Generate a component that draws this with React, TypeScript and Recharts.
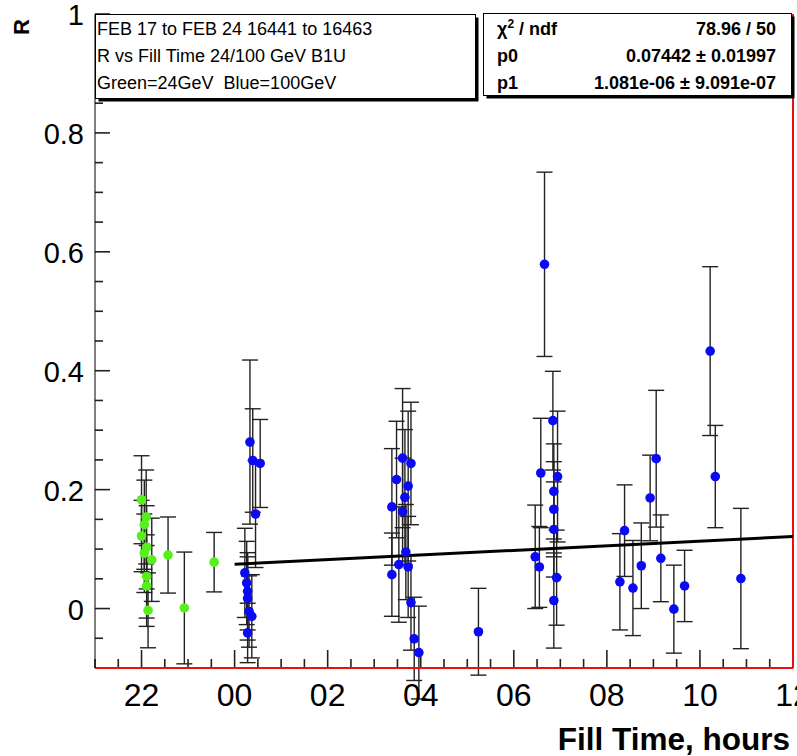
import { ErrorBar, ReferenceLine, Scatter, ScatterChart, XAxis, YAxis } from "recharts";

const FONT = "'Liberation Sans', Arial, Helvetica, sans-serif";

// fill time in hours (24 = midnight), R value, error
const greenTime = [22.0, 22.1, 22.06, 22.0, 22.11, 22.06, 22.22, 22.57, 22.11, 22.11, 22.14, 22.92, 23.56];
const greenR = [0.183, 0.154, 0.141, 0.122, 0.103, 0.093, 0.082, 0.09, 0.054, 0.038, -0.003, 0.001, 0.078];
const greenErr = [0.074, 0.079, 0.075, 0.06, 0.07, 0.066, 0.07, 0.064, 0.07, 0.068, 0.063, 0.094, 0.05];

const blueTime = [
  24.33, 24.39, 24.55, 24.45, 24.22, 24.26, 24.28, 24.28, 24.31, 24.37, 24.28,
  27.61, 27.79, 27.48, 27.73, 27.66, 27.38, 27.61, 27.68, 27.53, 27.73, 27.38, 27.79, 27.86, 27.96, 29.24,
  30.46, 30.55, 30.58, 30.66, 30.84, 30.86, 30.86, 30.86, 30.94, 30.92, 30.86,
  32.28, 32.38, 32.56, 32.74, 32.93, 33.06, 33.16, 33.44, 33.67, 34.22, 34.33, 34.88,
];
const blueR = [
  0.28, 0.249, 0.244, 0.159, 0.06, 0.043, 0.029, 0.017, -0.005, -0.013, -0.041,
  0.253, 0.244, 0.217, 0.206, 0.187, 0.171, 0.163, 0.095, 0.074, 0.07, 0.057, 0.01, -0.051, -0.074, -0.039,
  0.087, 0.07, 0.228, 0.579, 0.316, 0.197, 0.167, 0.133, 0.222, 0.052, 0.0135,
  0.045, 0.131, 0.0345, 0.072, 0.186, 0.252, 0.0845, -0.001, 0.038, 0.433, 0.222, 0.0505,
];
const blueErr = [
  0.138, 0.087, 0.074, 0.09, 0.075, 0.07, 0.065, 0.07, 0.06, 0.07, 0.05,
  0.117, 0.103, 0.098, 0.126, 0.114, 0.098, 0.09, 0.08, 0.097, 0.085, 0.07, 0.08, 0.07, 0.078, 0.073,
  0.087, 0.068, 0.092, 0.155, 0.083, 0.08, 0.08, 0.08, 0.11, 0.08, 0.08,
  0.081, 0.077, 0.08, 0.072, 0.072, 0.115, 0.073, 0.074, 0.06, 0.142, 0.086, 0.118,
];

// pol1 fit drawn from midnight to noon
const fitTime = [24, 36];
const fitR = [0.0744, 0.1211];

const X_MIN = 21;
const X_MAX = 36;
const Y_MIN = -0.1;
const Y_MAX = 1;

const xTicks = [
  21, 21.5, 22, 22.5, 23, 23.5, 24, 24.5, 25, 25.5, 26, 26.5, 27, 27.5, 28, 28.5,
  29, 29.5, 30, 30.5, 31, 31.5, 32, 32.5, 33, 33.5, 34, 34.5, 35, 35.5, 36,
];
const xMajorTicks = [22, 24, 26, 28, 30, 32, 34, 36];
const xMajorLabels = ["22", "00", "02", "04", "06", "08", "10", "12"];

const yTicks = [
  -0.1, -0.05, 0, 0.05, 0.1, 0.15, 0.2, 0.25, 0.3, 0.35, 0.4, 0.45, 0.5, 0.55,
  0.6, 0.65, 0.7, 0.75, 0.8, 0.85, 0.9, 0.95, 1,
];
const yMajorTicks = [0, 0.2, 0.4, 0.6, 0.8, 1];
const yMajorLabels = ["0", "0.2", "0.4", "0.6", "0.8", "1"];

const greenData = greenTime.map((h, i) => ({ h, r: greenR[i], err: greenErr[i] }));
const blueData = blueTime.map((h, i) => ({ h, r: blueR[i], err: blueErr[i] }));
const fitData = fitTime.map((h, i) => ({ h, r: fitR[i] }));

const TICK_COLOR = "#222222";

// ROOT style tick marks: short stubs from the frame edge pointing inward.
const xStub = (len: number) => (p: any) => {
  const x = Number(p.x1);
  const yb = Math.max(Number(p.y1), Number(p.y2));
  return <line x1={x} x2={x} y1={yb} y2={yb - len} stroke={TICK_COLOR} strokeWidth={1.6} />;
};
const yStub = (len: number) => (p: any) => {
  const y = Number(p.y1);
  const xl = Math.min(Number(p.x1), Number(p.x2));
  return <line x1={xl} x2={xl + len} y1={y} y2={y} stroke={TICK_COLOR} strokeWidth={1.6} />;
};

function XLabel(props: any) {
  const i = xMajorTicks.indexOf(props.payload.value);
  if (i < 0) return <g />;
  return (
    <text x={props.x} y={Number(props.y) + 27} textAnchor="middle" dominantBaseline="central" fontSize={32} fontFamily={FONT} fill="#000">
      {xMajorLabels[i]}
    </text>
  );
}

function YLabel(props: any) {
  const i = yMajorTicks.indexOf(props.payload.value);
  if (i < 0) return <g />;
  return (
    <text x={Number(props.x) - 11} y={Number(props.y) + 1} textAnchor="end" dominantBaseline="central" fontSize={29} fontFamily={FONT} fill="#000">
      {yMajorLabels[i]}
    </text>
  );
}

const dot = (color: string) => (p: any) => <circle cx={p.cx} cy={p.cy} r={4.8} fill={color} />;

export default function App() {
  return (
    <div style={{ position: "absolute", left: 0, top: 0, width: 797, height: 756, background: "#fff" }}>
      <ScatterChart width={797} height={756} margin={{ top: 14, right: 4, bottom: 0, left: 0 }}>
        <XAxis
          type="number"
          dataKey="h"
          domain={[X_MIN, X_MAX]}
          allowDataOverflow
          ticks={xTicks}
          interval={0}
          height={88}
          tickSize={0}
          tickMargin={0}
          tickLine={false}
          axisLine={{ stroke: "#e81010", strokeWidth: 2 }}
          tick={(p: any) => <XLabel {...p} />}
        />
        <YAxis
          type="number"
          dataKey="r"
          domain={[Y_MIN, Y_MAX]}
          allowDataOverflow
          ticks={yTicks}
          interval={0}
          width={95}
          tickSize={0}
          tickMargin={0}
          tickLine={false}
          axisLine={{ stroke: "#000", strokeWidth: 1 }}
          tick={(p: any) => <YLabel {...p} />}
        />
        {xTicks.map((t) => (
          <ReferenceLine key={`xt${t}`} x={t} ifOverflow="visible" shape={xStub(xMajorTicks.includes(t) ? 18 : 9)} />
        ))}
        {yTicks.map((t) => (
          <ReferenceLine key={`yt${t}`} y={t} ifOverflow="visible" shape={yStub(yMajorTicks.includes(t) ? 15 : 8)} />
        ))}
        <ReferenceLine x={X_MAX} stroke="#e81010" strokeWidth={2} />
        <Scatter
          data={fitData}
          line={{ stroke: "#000", strokeWidth: 3 }}
          shape={() => <g />}
          isAnimationActive={false}
        />
        <Scatter data={greenData} shape={dot("#55f01c")} isAnimationActive={false}>
          <ErrorBar dataKey="err" direction="y" width={8} stroke="#222" strokeWidth={1.4} isAnimationActive={false} />
        </Scatter>
        <Scatter data={blueData} shape={dot("#0a0af5")} isAnimationActive={false}>
          <ErrorBar dataKey="err" direction="y" width={8} stroke="#222" strokeWidth={1.4} isAnimationActive={false} />
        </Scatter>
      </ScatterChart>

      <svg width={797} height={756} style={{ position: "absolute", left: 0, top: 0, pointerEvents: "none" }} fontFamily={FONT}>
        <text
          transform="translate(21.5,27) rotate(-90)"
          textAnchor="middle"
          dominantBaseline="central"
          fontSize={22}
          fontWeight="bold"
        >
          R
        </text>

        <rect x={98.5} y={17.5} width={380} height={84} fill="#000" />
        <rect x={95.5} y={14.5} width={380} height={84} fill="#fff" stroke="#000" />
        <text x={97} y={35} fontSize={18}>FEB 17 to FEB 24 16441 to 16463</text>
        <text x={97} y={62} fontSize={18}>R vs Fill Time 24/100 GeV B1U</text>
        <text x={97} y={89} fontSize={18} style={{ whiteSpace: "pre" }}>Green=24GeV  Blue=100GeV</text>

        <rect x={486.5} y={16.5} width={308} height={82} fill="#000" />
        <rect x={483.5} y={13.5} width={308} height={82} fill="#fff" stroke="#000" />
        <text x={497} y={35} fontSize={18} fontWeight="bold">
          χ<tspan dy={-7} fontSize={12}>2</tspan>
          <tspan dy={7}> / ndf</tspan>
        </text>
        <text x={776} y={35} fontSize={18} fontWeight="bold" textAnchor="end">78.96 / 50</text>
        <text x={497} y={62} fontSize={18} fontWeight="bold">p0</text>
        <text x={776} y={62} fontSize={18} fontWeight="bold" textAnchor="end">0.07442 ± 0.01997</text>
        <text x={497} y={89} fontSize={18} fontWeight="bold">p1</text>
        <text x={776} y={89} fontSize={18} fontWeight="bold" textAnchor="end">1.081e-06 ± 9.091e-07</text>

        <text x={790} y={750} fontSize={31.5} fontWeight="bold" textAnchor="end">Fill Time, hours</text>
      </svg>
    </div>
  );
}
